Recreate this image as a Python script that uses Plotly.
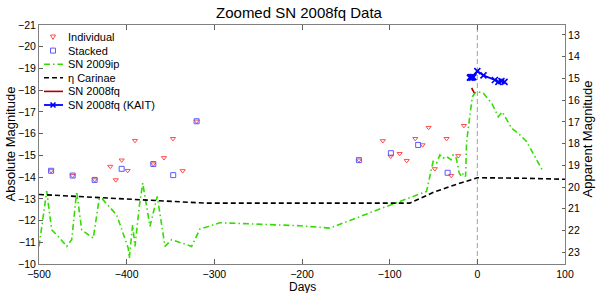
import plotly.graph_objects as go

# ---------------- data ----------------
ind_days = [-486.2, -461.6, -436.5, -418.7, -412.5, -405.7, -398.9, -390.5, -369.6,
            -357.5, -347.2, -336.1, -320.2, -135.1, -107.8, -98.9, -88.6, -80.6,
            -70.8, -62.5, -55.6, -48.5, -35.1, -29.8, -21.8, -15.3]
ind_mag = [-14.29, -14.07, -13.87, -14.49, -13.87, -14.78, -14.30, -15.68, -14.60,
           -14.89, -15.77, -14.29, -16.57, -14.78, -15.67, -14.96, -15.08, -14.76,
           -15.77, -15.48, -16.28, -14.38, -15.77, -14.07, -14.98, -16.37]

stk_days = [-486.2, -461.6, -436.5, -405.7, -369.6, -346.9, -320.2, -135.1, -98.6, -67.5, -33.9]
stk_mag = [-14.29, -14.07, -13.87, -14.38, -14.60, -14.09, -16.57, -14.78, -15.10, -15.48, -14.20]

ip_days = [-500, -491.2, -485.5, -478, -468.4, -462.7, -457, -451.3, -438.1, -431.2,
           -428, -411.4, -398.2, -397, -393.2, -390.5, -385.6, -381.7, -373.4, -365.1,
           -356.3, -348.7, -325.9, -316.4, -308.8, -293.6, -202.4, -168.2, -103.6, -57.9,
           -52.2, -50.4, -46.5, -42.7, -39, -35, -30, -27.6, -24, -20.6,
           -18, -16, -13.4, -12.3, -8, -5.6, -3, 0, 6.9, 16.4,
           22, 23.9, 28.4, 33.4, 39.1, 48.6, 56.1, 65.6, 75]
ip_mag = [-10.81, -13.35, -11.57, -11.27, -10.81, -11.12, -13.34, -11.57, -11.19, -13.03,
          -13.0, -12.26, -10.73, -10.27, -11.8, -10.81, -12.65, -13.72, -11.73, -13.11,
          -10.81, -11.12, -10.81, -11.61, -11.7, -11.9, -11.76, -11.65, -12.65, -13.34,
          -14.41, -14.72, -14.64, -15.02, -14.87, -14.95, -14.8, -15.02, -14.87, -14.18,
          -14.03, -14.18, -14.03, -15.6, -17.0, -17.7, -17.86, -17.93, -17.86, -17.4,
          -16.94, -16.78, -17.0, -16.63, -16.25, -15.94, -15.64, -14.95, -14.25]

eta_days = [-500, -450, -400, -350, -310, -77, -50, -25, 0, 50, 100]
eta_mag = [-13.2, -13.1, -13.0, -12.9, -12.8, -12.8, -13.3, -13.65, -13.97, -13.95, -13.9]

fq_days = [-6.5, -5.0, -3.5]
fq_mag = [-18.1, -18.0, -17.88]

kait_days = [-8.5, -7.5, -6.5, -5.5, -4.5, 0, 7, 20, 24, 27.5, 31]
kait_app = [14.96, 14.94, 14.96, 14.94, 14.94, 14.66, 14.86, 15.07, 15.16, 15.12, 15.16]

legend_labels = ["Individual", "Stacked", "SN 2009ip", "η Carinae", "SN 2008fq", "SN 2008fq (KAIT)"]
x_ticks = [-500, -400, -300, -200, -100, 0, 100]
abs_ticks = list(range(-21, -9))
app_ticks = list(range(13, 24))

peak_day = 0
dist_mod = 33.54
abs_range = [-10, -21]
app_range = [abs_range[0] + dist_mod, abs_range[1] + dist_mod]

# ---------------- styles ----------------
FONT = "Liberation Sans, Arial, sans-serif"
C_IND = "#ff4d4d"
C_STK = "#5a5aff"
C_IP = "#33dd00"
C_ETA = "black"
C_FQ = "#b00000"
C_KAIT = "#0000ff"
DASH_IP = "6px,3px,1.5px,3px"
DASH_ETA = "5px,3px"

fig = go.Figure()
fig.add_trace(go.Scatter(x=ind_days, y=ind_mag, mode="markers", name=legend_labels[0],
                         marker=dict(symbol="triangle-down-open", size=4.5, color=C_IND,
                                     line=dict(width=1))))
fig.add_trace(go.Scatter(x=stk_days, y=stk_mag, mode="markers", name=legend_labels[1],
                         marker=dict(symbol="square-open", size=5, color=C_STK,
                                     line=dict(width=1))))
fig.add_trace(go.Scatter(x=ip_days, y=ip_mag, mode="lines", name=legend_labels[2],
                         line=dict(color=C_IP, width=1.6, dash=DASH_IP)))
fig.add_trace(go.Scatter(x=eta_days, y=eta_mag, mode="lines", name=legend_labels[3],
                         line=dict(color=C_ETA, width=1.6, dash=DASH_ETA)))
fig.add_trace(go.Scatter(x=fq_days, y=fq_mag, mode="lines", name=legend_labels[4],
                         line=dict(color=C_FQ, width=1.6)))
fig.add_trace(go.Scatter(x=kait_days, y=kait_app, mode="lines+markers", name=legend_labels[5],
                         yaxis="y2",
                         line=dict(color=C_KAIT, width=1.8),
                         marker=dict(symbol="x-thin", size=6, line=dict(width=1.6, color=C_KAIT))))

fig.add_vline(x=peak_day, line=dict(color="#a0a0a0", width=1, dash="5px,3px"), layer="below")

# ---------------- compact legend box (pixel-sized, anchored at top-left of plot) ----------------
LEG_W, LEG_H, ROW0, ROW_STEP = 116, 87, 12, 13.6
shapes = []
annots = []
base = dict(xref="paper", yref="paper", xsizemode="pixel", ysizemode="pixel",
            xanchor=0, yanchor=1, layer="above")
shapes.append(dict(type="rect", x0=0, x1=LEG_W, y0=0, y1=-LEG_H,
                   line=dict(color="#303030", width=1), fillcolor="white", **base))
styles = [("tri", C_IND, None, 1), ("sq", C_STK, None, 1), ("line", C_IP, DASH_IP, 1.6),
          ("line", C_ETA, DASH_ETA, 1.6), ("line", C_FQ, None, 1.6), ("linex", C_KAIT, None, 1.8)]
for i, (kind, col, dash, w) in enumerate(styles):
    cy = -(ROW0 + ROW_STEP * i)
    if kind == "tri":
        shapes.append(dict(type="path",
                           path=f"M11.5,{cy+2} L16.5,{cy+2} L14,{cy-2.5} Z",
                           line=dict(color=col, width=1), **base))
    elif kind == "sq":
        shapes.append(dict(type="rect", x0=11.5, x1=16.5, y0=cy - 2.5, y1=cy + 2.5,
                           line=dict(color=col, width=1), **base))
    else:
        ln = dict(color=col, width=w)
        if dash:
            ln["dash"] = dash
        shapes.append(dict(type="line", x0=5, x1=24, y0=cy, y1=cy, line=ln, **base))
        if kind == "linex":
            shapes.append(dict(type="path",
                               path=f"M11.5,{cy-2.5} L16.5,{cy+2.5} M11.5,{cy+2.5} L16.5,{cy-2.5}",
                               line=dict(color=col, width=1.6), **base))
    annots.append(dict(xref="paper", yref="paper", x=0, y=1, xanchor="left", yanchor="middle",
                       xshift=27, yshift=cy, text=legend_labels[i], showarrow=False,
                       font=dict(family=FONT, size=11, color="black")))

# axis titles as annotations placed by pixel offsets from the plot area
TITLE_FONT = dict(family=FONT, size=13, color="black")
annots.append(dict(xref="paper", yref="paper", x=0.5, y=0, xanchor="center", yanchor="middle",
                   yshift=-22.5, text="Days", showarrow=False,
                   font=dict(family=FONT, size=12, color="black")))
annots.append(dict(xref="paper", yref="paper", x=0, y=0.5, xanchor="center", yanchor="middle",
                   xshift=-29, text="Absolute Magnitude", textangle=-90, showarrow=False,
                   font=TITLE_FONT))
annots.append(dict(xref="paper", yref="paper", x=1, y=0.5, xanchor="center", yanchor="middle",
                   xshift=22, yshift=5, text="Apparent Magnitude", textangle=-90, showarrow=False,
                   font=TITLE_FONT))

axis_common = dict(showgrid=False, zeroline=False, linecolor="#808080", linewidth=1,
                   tickfont=dict(family=FONT, size=10.5, color="black"),
                   tickcolor="#606060", automargin=False)

fig.update_layout(
    width=598, height=293,
    margin=dict(l=39, r=33, t=25, b=29, autoexpand=False),
    paper_bgcolor="white", plot_bgcolor="white",
    showlegend=False,
    title=dict(text="Zoomed SN 2008fq Data", x=0.5, xanchor="center",
               y=1 - 12.5 / 293, yanchor="middle",
               font=dict(family=FONT, size=15, color="black")),
    font=dict(family=FONT, color="black"),
    xaxis=dict(range=[-500, 100], tickvals=x_ticks,
               ticks="inside", ticklen=5, mirror="ticks", showline=True,
               **axis_common),
    yaxis=dict(range=abs_range, tickvals=abs_ticks,
               ticks="inside", ticklen=4, showline=True,
               **axis_common),
    yaxis2=dict(range=app_range, overlaying="y", side="right", tickvals=app_ticks,
                ticks="inside", ticklen=3, showline=True,
                **axis_common),
    shapes=shapes,
    annotations=annots,
)

fig.write_html("out.html", config={"displayModeBar": False},
               post_script="document.body.style.margin='0';")
